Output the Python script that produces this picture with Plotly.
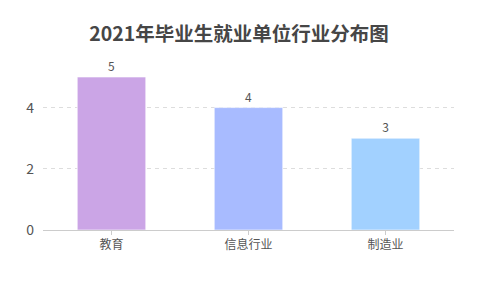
import plotly.graph_objects as go

categories = ["教育", "信息行业", "制造业"]
values = [5, 4, 3]
colors = ["#cba5e6", "#a8bbff", "#a2d1ff"]
title_text = "2021年毕业生就业单位行业分布图"

fig = go.Figure()
fig.add_trace(go.Bar(
    x=categories, y=values,
    marker=dict(color=colors, line=dict(color="rgba(255,255,255,0.6)", width=1)),
    width=0.5,
    text=[str(v) for v in values], textposition="outside",
    textfont=dict(size=12, color="#555555"),
    cliponaxis=False,
))
fig.update_layout(
    width=478, height=286,
    margin=dict(l=43, r=24, t=77, b=56),
    paper_bgcolor="white", plot_bgcolor="white",
    font=dict(family="Noto Sans CJK SC, sans-serif", color="#555555"),
    title=dict(text=title_text, x=0.5, xanchor="center", y=0.88, yanchor="middle",
               font=dict(size=19.5, color="#464646", family="Noto Sans CJK SC, sans-serif", weight="bold")),
    showlegend=False,
    bargap=0.5,
)
fig.update_xaxes(showline=True, linecolor="#cccccc", linewidth=1, ticks="outside",
                 tickcolor="#cccccc", ticklen=4, tickfont=dict(size=12, color="#555555"),
                 showgrid=False)
fig.update_yaxes(range=[0, 5], tickvals=[0, 2, 4], showgrid=True, gridcolor="#dddddd",
                 griddash="4px,4px", zeroline=False, showline=False,
                 tickfont=dict(size=14, color="#555555"), ticks="", ticklabelstandoff=8)
fig.write_html("out.html")
